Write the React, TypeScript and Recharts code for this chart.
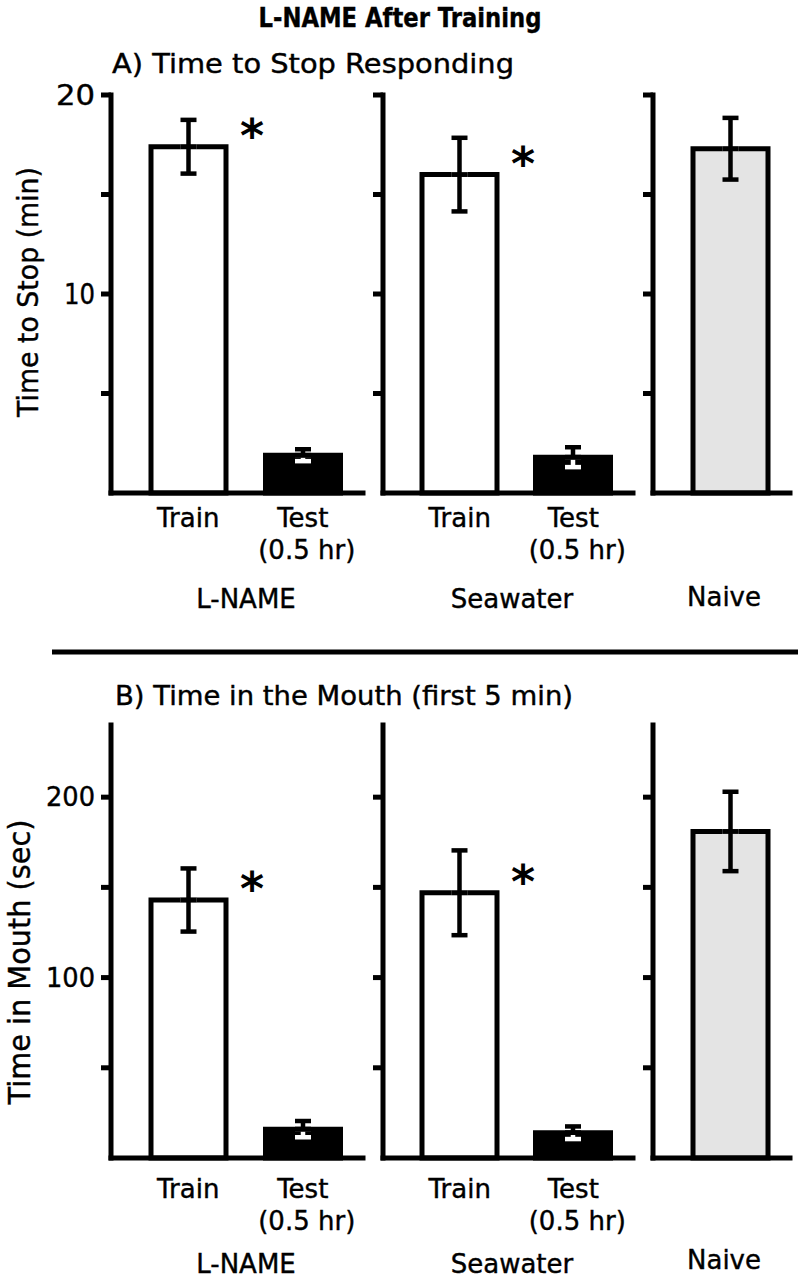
import React from "react";
import { BarChart, Bar, XAxis, YAxis, ErrorBar, Cell, LabelList } from "recharts";

const FONT = "'DejaVu Sans', 'Liberation Sans', sans-serif";

const conditions = ["Train", "Test"];
const naiveCat = ["Naive"];

// A) time to stop responding (min)
const stopLname = [17.4, 1.9];
const stopLnameErr = [1.35, 0.3];
const stopSea = [16.0, 1.8];
const stopSeaErr = [1.85, 0.5];
const stopNaive = [17.3];
const stopNaiveErr = [1.55];

// B) time in the mouth, first 5 min (sec)
const mouthLname = [143, 16];
const mouthLnameErr = [17.5, 4.5];
const mouthSea = [147, 14];
const mouthSeaErr = [23.5, 3.5];
const mouthNaive = [181];
const mouthNaiveErr = [22];

// asterisk next to the train bars
const sigTrainTest = ["*", ""];
const sigNaive = [""];

const stopTicks = [5, 10, 15, 20];
const stopTickLabels = [10, 20];
const mouthTicks = [50, 100, 150, 200];
const mouthTickLabels = [100, 200];

const fillTrainTest = ["#ffffff", "#000000"];
const fillNaive = ["#e4e4e4"];

function makeRows(cats: string[], vals: number[], errs: number[], fills: string[], sig: string[]) {
  return cats.map((c, i) => {
    const dark = fills[i] === "#000000";
    return {
      cat: c,
      value: vals[i],
      fill: fills[i],
      sig: sig[i],
      errHi: [0, errs[i]],
      errLoDark: dark ? [0, 0] : [errs[i], 0],
      errLoLight: dark ? [errs[i], 0] : [0, 0],
    };
  });
}

const YW = 100;
const LW = 5; // line weight

type SubProps = {
  data: any[];
  axisX: number;
  plotRight: number;
  plotTop: number;
  plotBottom: number;
  domain: [number, number];
  ticks: number[];
  tickLabels: number[];
  tickFont: number;
  tickLen: (v: number) => number;
  labelDy: [number, number];
};

function SubChart(p: SubProps) {
  const top = 20;
  const xh = 90;
  const w = YW + (p.plotRight - p.axisX) + 6;
  const h = top + (p.plotBottom - p.plotTop) + xh;

  const yTick = (t: any) => {
    const v = t.payload.value;
    if (!p.tickLabels.includes(v)) return <g />;
    return (
      <text x={t.x} y={t.y} textAnchor="end" dominantBaseline="central" fontFamily={FONT}
        fontSize={p.tickFont} fill="#000" stroke="#000" strokeWidth={0.4}
        textLength={p.tickLen(v)} lengthAdjust="spacingAndGlyphs">
        {v}
      </text>
    );
  };

  const xTick = (t: any) => {
    const v = t.payload.value;
    if (v === "Naive") return <g />;
    return (
      <g>
        <text x={t.x} y={t.y + p.labelDy[0]} textAnchor="middle" fontFamily={FONT} fontSize={26}
          fill="#000" stroke="#000" strokeWidth={0.4}>
          {v}
        </text>
        {v === "Test" && (
          <text x={t.x + 4} y={t.y + p.labelDy[1]} textAnchor="middle" fontFamily={FONT} fontSize={26}
            fill="#000" stroke="#000" strokeWidth={0.4}>
            (0.5 hr)
          </text>
        )}
      </g>
    );
  };

  const star = (lp: any) => {
    if (!lp.value) return null;
    const vb = lp.viewBox || lp;
    const x = vb.x + vb.width + 26;
    const y = vb.y + 5;
    return (
      <text x={x} y={y} textAnchor="middle" fontFamily={FONT} fontWeight="bold" fontSize={46} fill="#000">
        {lp.value}
      </text>
    );
  };

  return (
    <div style={{ position: "absolute", left: p.axisX - YW, top: p.plotTop - top }}>
      <BarChart width={w} height={h} data={p.data} margin={{ top, right: 6, bottom: 0, left: 0 }}>
        <XAxis
          dataKey="cat"
          type="category"
          padding={{ left: 20, right: 3 }}
          axisLine={{ stroke: "#000", strokeWidth: LW, strokeLinecap: "square" } as any}
          tickLine={false}
          tickSize={0}
          tickMargin={0}
          interval={0}
          height={xh}
          tick={xTick}
        />
        <YAxis
          type="number"
          domain={p.domain}
          ticks={p.ticks}
          interval={0}
          width={YW}
          axisLine={{ stroke: "#000", strokeWidth: LW, strokeLinecap: "square" } as any}
          tickLine={{ stroke: "#000", strokeWidth: LW }}
          tickSize={10}
          tickMargin={6}
          tick={yTick}
        />
        <Bar dataKey="value" barSize={75} stroke="#000" strokeWidth={LW} isAnimationActive={false}>
          {p.data.map((r, i) => (
            <Cell key={i} fill={r.fill} />
          ))}
          <ErrorBar dataKey="errLoLight" width={8} stroke="#fff" strokeWidth={4.5} isAnimationActive={false} />
          <ErrorBar dataKey="errLoDark" width={8} stroke="#000" strokeWidth={4.5} isAnimationActive={false} />
          <ErrorBar dataKey="errHi" width={8} stroke="#000" strokeWidth={4.5} isAnimationActive={false} />
          <LabelList dataKey="sig" content={star} />
        </Bar>
      </BarChart>
    </div>
  );
}

const stopLen = (v: number) => (v === 10 ? 31 : 39);
const mouthLen = (v: number) => 49;

export default function App() {
  const aTop = 95;
  const aBottom = 493;
  const bTop = 725;
  const bBottom = 1158;
  const txt = { fontFamily: FONT, fill: "#000", stroke: "#000", strokeWidth: 0.4 } as const;
  return (
    <div style={{ position: "absolute", left: 0, top: 0, width: 798, height: 1280, background: "#fff", overflow: "hidden" }}>
      <svg width={798} height={1280} style={{ position: "absolute", left: 0, top: 0 }}>
        <text x={400} y={27} textAnchor="middle" fontWeight="bold" fontSize={26} textLength={283} lengthAdjust="spacingAndGlyphs" {...txt}>
          L-NAME After Training
        </text>
        <text x={112} y={73} fontSize={26} textLength={402} lengthAdjust="spacingAndGlyphs" {...txt}>
          A) Time to Stop Responding
        </text>
        <text transform="translate(38,292) rotate(-90)" textAnchor="middle" fontSize={29} textLength={250} lengthAdjust="spacingAndGlyphs" {...txt}>
          Time to Stop (min)
        </text>
        <text x={246} y={608} textAnchor="middle" fontSize={26} {...txt}>L-NAME</text>
        <text x={512} y={608} textAnchor="middle" fontSize={26} {...txt}>Seawater</text>
        <text x={724} y={606} textAnchor="middle" fontSize={26} {...txt}>Naive</text>

        <line x1={52} y1={652} x2={798} y2={652} stroke="#000" strokeWidth={5} />

        <text x={115} y={705} fontSize={26} textLength={458} lengthAdjust="spacingAndGlyphs" {...txt}>
          B) Time in the Mouth (first 5 min)
        </text>
        <text transform="translate(30,962) rotate(-90)" textAnchor="middle" fontSize={31} textLength={285} lengthAdjust="spacingAndGlyphs" {...txt}>
          Time in Mouth (sec)
        </text>
        <text x={246} y={1273} textAnchor="middle" fontSize={26} {...txt}>L-NAME</text>
        <text x={512} y={1273} textAnchor="middle" fontSize={26} {...txt}>Seawater</text>
        <text x={724} y={1269} textAnchor="middle" fontSize={26} {...txt}>Naive</text>
      </svg>

      <SubChart data={makeRows(conditions, stopLname, stopLnameErr, fillTrainTest, sigTrainTest)} axisX={111} plotRight={363}
        plotTop={aTop} plotBottom={aBottom} domain={[0, 20]} ticks={stopTicks} tickLabels={stopTickLabels}
        tickFont={28} tickLen={stopLen} labelDy={[34, 66]} />
      <SubChart data={makeRows(conditions, stopSea, stopSeaErr, fillTrainTest, sigTrainTest)} axisX={383} plotRight={633}
        plotTop={aTop} plotBottom={aBottom} domain={[0, 20]} ticks={stopTicks} tickLabels={[]}
        tickFont={28} tickLen={stopLen} labelDy={[34, 66]} />
      <SubChart data={makeRows(naiveCat, stopNaive, stopNaiveErr, fillNaive, sigNaive)} axisX={653} plotRight={790}
        plotTop={aTop} plotBottom={aBottom} domain={[0, 20]} ticks={stopTicks} tickLabels={[]}
        tickFont={28} tickLen={stopLen} labelDy={[34, 66]} />

      <SubChart data={makeRows(conditions, mouthLname, mouthLnameErr, fillTrainTest, sigTrainTest)} axisX={111} plotRight={363}
        plotTop={bTop} plotBottom={bBottom} domain={[0, 240]} ticks={mouthTicks} tickLabels={mouthTickLabels}
        tickFont={26} tickLen={mouthLen} labelDy={[40, 72]} />
      <SubChart data={makeRows(conditions, mouthSea, mouthSeaErr, fillTrainTest, sigTrainTest)} axisX={383} plotRight={633}
        plotTop={bTop} plotBottom={bBottom} domain={[0, 240]} ticks={mouthTicks} tickLabels={[]}
        tickFont={26} tickLen={mouthLen} labelDy={[40, 72]} />
      <SubChart data={makeRows(naiveCat, mouthNaive, mouthNaiveErr, fillNaive, sigNaive)} axisX={653} plotRight={790}
        plotTop={bTop} plotBottom={bBottom} domain={[0, 240]} ticks={mouthTicks} tickLabels={[]}
        tickFont={26} tickLen={mouthLen} labelDy={[40, 72]} />
    </div>
  );
}
